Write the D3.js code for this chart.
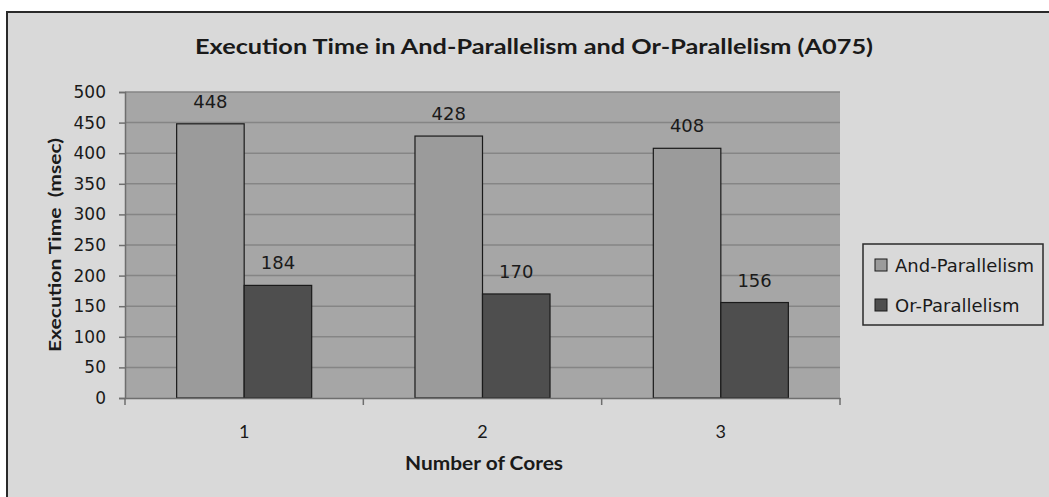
<!DOCTYPE html>
<html>
<head>
<meta charset="utf-8">
<script src="https://cdn.jsdelivr.net/npm/d3@7"></script>
<style>
  html, body { margin: 0; padding: 0; background: #ffffff; }
  svg { display: block; }
</style>
</head>
<body>
<svg id="chart" width="1049" height="497"></svg>
<script>
// ---- data ----
const categories = ["1", "2", "3"];
const seriesNames = ["And-Parallelism", "Or-Parallelism"];
const andValues = [448, 428, 408];
const orValues = [184, 170, 156];
const yTicks = [0, 50, 100, 150, 200, 250, 300, 350, 400, 450, 500];
const titleText = "Execution Time in And-Parallelism and Or-Parallelism (A075)";
const xTitle = "Number of Cores";
const yTitle = "Execution Time  (msec)";

const seriesValues = [andValues, orValues];
const colors = ["#9b9b9b", "#4e4e4e"];

const svg = d3.select("#chart");

// chart frame
svg.append("rect")
  .attr("x", 7).attr("y", 12)
  .attr("width", 1060).attr("height", 500)
  .attr("fill", "#d9d9d9")
  .attr("stroke", "#2a2a2a").attr("stroke-width", 2);

const plot = { left: 125, right: 840, top: 92, bottom: 398 };

const x0 = d3.scaleBand().domain(categories).range([plot.left, plot.right]).padding(0);
const x1 = d3.scaleBand().domain(seriesNames).range([0, x0.bandwidth()]).paddingInner(0).paddingOuter(0.765);
const y = d3.scaleLinear().domain([0, 500]).range([plot.bottom, plot.top]);

// plot area background
svg.append("rect")
  .attr("x", plot.left).attr("y", plot.top)
  .attr("width", plot.right - plot.left).attr("height", plot.bottom - plot.top)
  .attr("fill", "#a6a6a6");

// gridlines
svg.append("g").selectAll("line")
  .data(yTicks.filter(d => d > 0))
  .join("line")
  .attr("x1", plot.left).attr("x2", plot.right)
  .attr("y1", d => y(d)).attr("y2", d => y(d))
  .attr("stroke", "#858585").attr("stroke-width", 1.5);

// bars
const groups = svg.append("g").selectAll("g")
  .data(categories)
  .join("g")
  .attr("transform", d => `translate(${x0(d)},0)`);

groups.selectAll("rect")
  .data((c, i) => seriesNames.map((s, j) => ({ s, j, v: seriesValues[j][i] })))
  .join("rect")
  .attr("x", d => x1(d.s))
  .attr("y", d => y(d.v))
  .attr("width", x1.bandwidth())
  .attr("height", d => y(0) - y(d.v))
  .attr("fill", d => colors[d.j])
  .attr("stroke", "#1a1a1a").attr("stroke-width", 1.2);

groups.selectAll("text.val")
  .data((c, i) => seriesNames.map((s, j) => ({ s, j, v: seriesValues[j][i] })))
  .join("text")
  .attr("class", "val")
  .attr("x", d => x1(d.s) + x1.bandwidth() / 2)
  .attr("y", d => y(d.v) - 16)
  .attr("text-anchor", "middle")
  .attr("font-family", "DejaVu Sans, sans-serif")
  .attr("font-size", 18)
  .attr("fill", "#1a1a1a")
  .text(d => d.v);

// y axis
const yAxis = d3.axisLeft(y).tickValues(yTicks).tickSize(6).tickPadding(13);
const gy = svg.append("g").attr("transform", `translate(${plot.left},0)`).call(yAxis);
gy.select(".domain").attr("stroke", "#6e6e6e").attr("stroke-width", 1.5);
gy.selectAll(".tick line").attr("stroke", "#6e6e6e").attr("stroke-width", 1.5);
gy.selectAll(".tick text")
  .attr("font-family", "DejaVu Sans, sans-serif")
  .attr("font-size", 17).attr("fill", "#1a1a1a");

// x axis
const xAxis = d3.axisBottom(x0).tickSize(0).tickPadding(27);
const gx = svg.append("g").attr("transform", `translate(0,${plot.bottom})`).call(xAxis);
gx.select(".domain").attr("stroke", "#6e6e6e").attr("stroke-width", 1.5);
gx.selectAll(".tick text")
  .attr("font-family", "Lato, sans-serif")
  .attr("font-size", 18).attr("fill", "#1a1a1a");
// category boundary ticks
gx.append("g").selectAll("line")
  .data(categories.map(c => x0(c)).concat([plot.right]))
  .join("line")
  .attr("x1", d => d).attr("x2", d => d)
  .attr("y1", 0).attr("y2", 7)
  .attr("stroke", "#6e6e6e").attr("stroke-width", 1.5);

// titles
svg.append("text")
  .attr("x", 534).attr("y", 54)
  .attr("text-anchor", "middle")
  .attr("font-family", "Lato, sans-serif").attr("font-weight", "bold")
  .attr("font-size", 21).attr("fill", "#1a1a1a")
  .attr("textLength", 678).attr("lengthAdjust", "spacingAndGlyphs")
  .text(titleText);

svg.append("text")
  .attr("x", 484).attr("y", 470)
  .attr("text-anchor", "middle")
  .attr("font-family", "Lato, sans-serif").attr("font-weight", "bold")
  .attr("font-size", 18).attr("fill", "#1a1a1a")
  .attr("textLength", 158).attr("lengthAdjust", "spacingAndGlyphs")
  .text(xTitle);

svg.append("text")
  .attr("transform", "translate(61,245) rotate(-90)")
  .attr("text-anchor", "middle")
  .attr("font-family", "Lato, sans-serif").attr("font-weight", "bold")
  .attr("font-size", 17).attr("fill", "#1a1a1a")
  .attr("textLength", 214).attr("lengthAdjust", "spacingAndGlyphs")
  .style("white-space", "pre")
  .text(yTitle);

// legend
const legend = svg.append("g");
legend.append("rect")
  .attr("x", 863).attr("y", 244).attr("width", 180).attr("height", 81)
  .attr("fill", "#d9d9d9").attr("stroke", "#2a2a2a").attr("stroke-width", 1.5);
const items = legend.selectAll("g.item")
  .data(seriesNames)
  .join("g")
  .attr("class", "item")
  .attr("transform", (d, i) => `translate(875,${259 + i * 40})`);
items.append("rect")
  .attr("width", 12).attr("height", 12)
  .attr("fill", (d, i) => colors[i])
  .attr("stroke", "#1a1a1a").attr("stroke-width", 1);
items.append("text")
  .attr("x", 20).attr("y", 13)
  .attr("font-family", "DejaVu Sans, sans-serif")
  .attr("font-size", 18).attr("fill", "#1a1a1a")
  .text(d => d);
</script>
</body>
</html>
